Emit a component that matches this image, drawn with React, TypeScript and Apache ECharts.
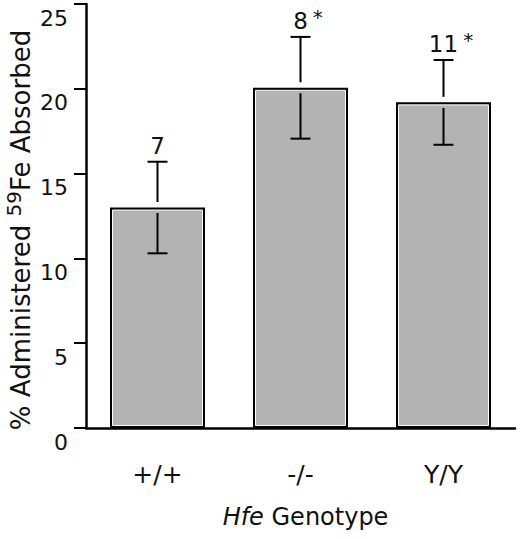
import React, { useEffect, useRef } from "react";
import * as echarts from "echarts";

const categories = ["+/+", "-/-", "Y/Y"];
const meanValues = [13.0, 20.06, 19.2];
const errorValues = [2.7, 3.0, 2.5];
const groupSizes = ["7", "8", "11"];
const significance = ["", "*", "*"];
const yTicks = { min: 0, max: 25, interval: 5 };

const FONT = "DejaVu Sans";
const BAR_W = 95;

export default function App() {
  const ref = useRef<HTMLDivElement>(null);
  useEffect(() => {
    if (!ref.current) return;
    const chart = echarts.init(ref.current, null, { renderer: "svg" });
    const errData = meanValues.map((m, i) => [i, m - errorValues[i], m + errorValues[i], m]);
    chart.setOption({
      animation: false,
      backgroundColor: "#ffffff",
      grid: { left: 86, right: 5, top: 4, bottom: 111 },
      xAxis: {
        type: "category",
        data: categories,
        axisLine: { lineStyle: { color: "#000", width: 2.5 } },
        axisTick: { alignWithLabel: true, length: 12, lineStyle: { color: "#000", width: 2 } },
        axisLabel: { fontFamily: FONT, fontSize: 25, color: "#111", margin: 34 },
        name: "{i|Hfe} {n|Genotype}",
        nameLocation: "middle",
        nameGap: 77,
        nameTextStyle: {
          fontFamily: FONT,
          fontSize: 24,
          color: "#111",
          padding: [0, 0, 0, 10],
          rich: {
            i: { fontFamily: FONT, fontSize: 24, fontStyle: "italic", color: "#111" },
            n: { fontFamily: FONT, fontSize: 24, color: "#111" },
          },
        },
      },
      yAxis: {
        type: "value",
        min: yTicks.min,
        max: yTicks.max,
        interval: yTicks.interval,
        splitLine: { show: false },
        axisLine: { show: true, lineStyle: { color: "#000", width: 2.5 } },
        axisTick: { show: true, length: 12, lineStyle: { color: "#000", width: 2 } },
        axisLabel: {
          fontFamily: FONT,
          fontSize: 22,
          color: "#111",
          margin: 18,
          verticalAlign: "top",
          padding: [3, 0, 0, 0],
        },
      },
      graphic: [
        {
          type: "text",
          x: 19,
          y: 230,
          rotation: Math.PI / 2,
          style: {
            text: "{a|% Administered }{s|59}{a|Fe Absorbed}",
            align: "center",
            verticalAlign: "middle",
            fill: "#111",
            rich: {
              a: { fontFamily: FONT, fontSize: 26, lineHeight: 30, fill: "#111", verticalAlign: "bottom" },
              s: { fontFamily: FONT, fontSize: 20, lineHeight: 30, fill: "#111", verticalAlign: "top" },
            },
          },
        },
      ],
      series: [
        {
          type: "bar",
          data: meanValues,
          barWidth: BAR_W,
          itemStyle: { color: "#b3b3b3", borderColor: "#000", borderWidth: 2.5 },
        },
        {
          type: "custom",
          data: errData,
          encode: { x: 0, y: [1, 2] },
          z: 3,
          renderItem: (params: any, api: any) => {
            const i = api.value(0);
            const mid = api.coord([i, api.value(3)]);
            const lo = api.coord([i, api.value(1)]);
            const hi = api.coord([i, api.value(2)]);
            const base = api.coord([i, 0]);
            const cx = mid[0];
            const cap = 10;
            const gap = 5.5;
            const ls = { stroke: "#000", lineWidth: 2 };
            const n = groupSizes[params.dataIndex];
            const sig = significance[params.dataIndex];
            const numFs = 23;
            const halfW = (n.length * 0.636 * numFs) / 2;
            const children: any[] = [
              {
                type: "rect",
                shape: { x: cx - BAR_W / 2 + 2.5, y: mid[1] + 2.5, width: BAR_W - 5, height: base[1] - mid[1] - 5 },
                style: { fill: "none", stroke: "#ffffff", lineWidth: 1 },
              },
              { type: "line", shape: { x1: cx, y1: hi[1], x2: cx, y2: mid[1] - gap }, style: ls },
              { type: "line", shape: { x1: cx, y1: mid[1] + gap, x2: cx, y2: lo[1] }, style: ls },
              { type: "line", shape: { x1: cx - cap, y1: hi[1], x2: cx + cap, y2: hi[1] }, style: ls },
              { type: "line", shape: { x1: cx - cap, y1: lo[1], x2: cx + cap, y2: lo[1] }, style: ls },
              {
                type: "text",
                x: cx,
                y: hi[1] - 16,
                style: {
                  text: n,
                  fontFamily: FONT,
                  fontSize: numFs,
                  fill: "#111",
                  align: "center",
                  verticalAlign: "middle",
                },
              },
            ];
            if (sig) {
              children.push({
                type: "text",
                x: cx + halfW + 5,
                y: hi[1] - 20,
                style: {
                  text: sig,
                  fontFamily: FONT,
                  fontSize: 20,
                  fill: "#111",
                  align: "left",
                  verticalAlign: "middle",
                },
              });
            }
            return { type: "group", children };
          },
        },
      ],
    });
    return () => chart.dispose();
  }, []);
  return (
    <div
      ref={ref}
      style={{ position: "fixed", left: 0, top: 0, width: 520, height: 539, background: "#fff" }}
    />
  );
}
